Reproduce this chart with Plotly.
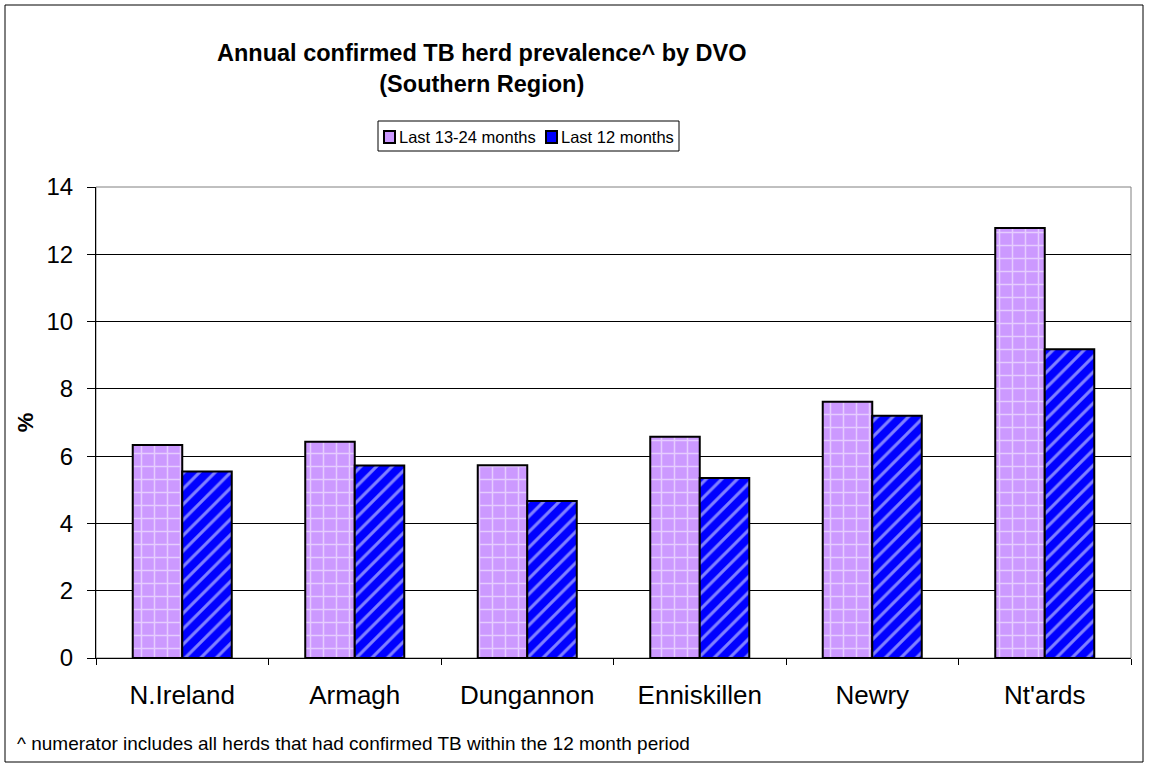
import plotly.graph_objects as go

categories = ["N.Ireland", "Armagh", "Dungannon", "Enniskillen", "Newry", "Nt'ards"]
last_13_24 = [6.33, 6.43, 5.73, 6.58, 7.62, 12.78]
last_12 = [5.54, 5.72, 4.67, 5.35, 7.20, 9.18]
series_names = ["Last 13-24 months", "Last 12 months"]
series_colors = ["#CC99FF", "#0000FF"]
y_ticks = [0, 2, 4, 6, 8, 10, 12, 14]

W, H = 1149, 769
L, R, T, B = 96, 18, 187, 111
pw, ph = W - L - R, H - T - B

def px_x(x):
    return (x - L) / pw

def px_y(y):
    return (H - B - y) / ph

fig = go.Figure()
fig.add_trace(go.Bar(
    x=categories, y=last_13_24, name=series_names[0],
    marker=dict(color=series_colors[0], line=dict(color="black", width=2),
                pattern=dict(shape="+", fgcolor="white", bgcolor=series_colors[0],
                             size=13, solidity=0.22, fillmode="overlay")),
))
fig.add_trace(go.Bar(
    x=categories, y=last_12, name=series_names[1],
    marker=dict(color=series_colors[1], line=dict(color="black", width=2),
                pattern=dict(shape="/", fgcolor="white", bgcolor=series_colors[1],
                             size=11, solidity=0.28, fillmode="overlay")),
))

shapes = [
    dict(type="rect", xref="paper", yref="paper", x0=0, x1=1, y0=0, y1=1,
         line=dict(color="#808080", width=1), layer="below"),
    dict(type="rect", xref="paper", yref="paper",
         x0=px_x(5), x1=px_x(1143), y0=px_y(762), y1=px_y(5),
         line=dict(color="black", width=1)),
    # legend box
    dict(type="rect", xref="paper", yref="paper",
         x0=px_x(378), x1=px_x(679), y0=px_y(151), y1=px_y(121),
         line=dict(color="black", width=1), fillcolor="white"),
]
annotations = [
    dict(text="<b>Annual confirmed TB herd prevalence^ by DVO<br>(Southern Region)</b>",
         xref="paper", yref="paper", x=px_x(482), y=px_y(68), xanchor="center", yanchor="middle",
         showarrow=False, font=dict(size=23.5)),
    dict(text="^ numerator includes all herds that had confirmed TB within the 12 month period",
         xref="paper", yref="paper", x=px_x(15), y=px_y(743), xanchor="left", yanchor="middle",
         showarrow=False, font=dict(size=19)),
]
# custom legend entries
swatch_x = [384, 546]
for i, name in enumerate(series_names):
    sx = swatch_x[i]
    shapes.append(dict(type="rect", xref="paper", yref="paper",
                       x0=px_x(sx), x1=px_x(sx + 11), y0=px_y(143), y1=px_y(131),
                       line=dict(color="black", width=2), fillcolor=series_colors[i]))
    annotations.append(dict(text=name, xref="paper", yref="paper",
                            x=px_x(sx + 13), y=px_y(137), xanchor="left", yanchor="middle",
                            showarrow=False, font=dict(size=16.5)))

fig.update_layout(
    width=W, height=H,
    margin=dict(l=L, r=R, t=T, b=B),
    paper_bgcolor="white", plot_bgcolor="white",
    barmode="group", bargap=0.426, bargroupgap=0,
    font=dict(family="Liberation Sans, Arial, sans-serif", color="black"),
    showlegend=False,
    xaxis=dict(showline=True, linecolor="black", linewidth=1,
               ticks="outside", ticklen=6, tickcolor="black", tickson="boundaries",
               tickfont=dict(size=26), ticklabelstandoff=14, showgrid=False),
    yaxis=dict(range=[0, 14], tickvals=y_ticks, showline=True, linecolor="black", linewidth=1,
               ticks="outside", ticklen=8, tickcolor="black",
               tickfont=dict(size=24), ticklabelstandoff=9,
               showgrid=True, gridcolor="black", gridwidth=1, zeroline=False,
               title=dict(text="<b>%</b>", font=dict(size=22), standoff=6)),
    shapes=shapes,
    annotations=annotations,
)

fig.write_html("out.html", config={"displayModeBar": False},
               post_script="document.body.style.margin='0px';")
